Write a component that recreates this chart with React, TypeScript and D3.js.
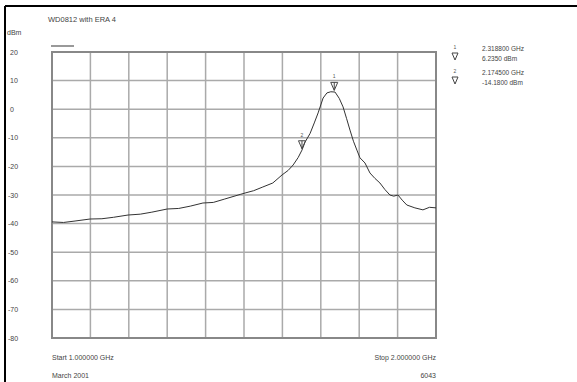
import React, { useEffect, useRef } from 'react';
import * as d3 from 'd3';

// trace (GHz, dBm)
const freqs = [1.0, 1.03, 1.06, 1.099, 1.13, 1.16, 1.198, 1.23, 1.26, 1.3, 1.33, 1.36, 1.393, 1.42, 1.45, 1.49, 1.503, 1.525, 1.549, 1.575, 1.599, 1.615, 1.628, 1.641, 1.651, 1.659, 1.672, 1.683, 1.693, 1.706, 1.716, 1.726, 1.737, 1.748, 1.758, 1.767, 1.776, 1.785, 1.794, 1.802, 1.815, 1.828, 1.841, 1.854, 1.867, 1.88, 1.89, 1.901, 1.912, 1.924, 1.945, 1.966, 1.983, 2.0];
const levels = [-39.4, -39.6, -39.1, -38.4, -38.3, -37.8, -37.0, -36.7, -36.0, -34.9, -34.7, -33.9, -32.8, -32.6, -31.4, -29.8, -29.3, -28.5, -27.2, -25.8, -23.0, -21.4, -19.5, -16.9, -14.3, -11.5, -8.5, -4.8, -1.3, 3.9, 5.7, 6.1, 6.0, 3.8, 0.8, -3.2, -7.3, -11.2, -14.3, -17.0, -18.8, -22.3, -24.2, -25.8, -28.1, -30.0, -30.4, -30.0, -31.8, -33.5, -34.5, -35.2, -34.3, -34.5];

const yTicks = [20, 10, 0, -10, -20, -30, -40, -50, -60, -70, -80];
const xTicks = [1.0, 1.1, 1.2, 1.3, 1.4, 1.5, 1.6, 1.7, 1.8, 1.9, 2.0];

const markerIds = ['1', '2'];
const markerFreqs = [1.735, 1.651];
const markerLevels = [6.235, -14.18];
const markerFreqLabels = ['2.318800 GHz', '2.174500 GHz'];
const markerLevelLabels = ['6.2350 dBm', '-14.1800 dBm'];

const FONT = '"Liberation Sans", Arial, sans-serif';

const App = () => {
  const svgRef = useRef<SVGSVGElement>(null);

  useEffect(() => {
    const svg = d3.select(svgRef.current);
    svg.selectAll('*').remove();

    const left = 52, right = 436, top = 52, bottom = 338;

    const x = d3.scaleLinear().domain([1, 2]).range([left, right]);
    const y = d3.scaleLinear().domain([-80, 20]).range([bottom, top]);

    // outer frame (top + left only)
    svg.append('line').attr('x1', 5).attr('x2', 577).attr('y1', 6).attr('y2', 6)
      .attr('stroke', '#000').attr('stroke-width', 2);
    svg.append('line').attr('x1', 5).attr('x2', 5).attr('y1', 6).attr('y2', 382)
      .attr('stroke', '#000').attr('stroke-width', 2);

    // title
    svg.append('text').attr('x', 48).attr('y', 22).text('WD0812 with ERA 4')
      .attr('font-size', 7.5).attr('font-family', FONT).attr('fill', '#444');
    svg.append('text').attr('x', 7).attr('y', 35).text('dBm')
      .attr('font-size', 7).attr('font-family', FONT).attr('fill', '#444');
    svg.append('line').attr('x1', 51).attr('x2', 74).attr('y1', 46).attr('y2', 46)
      .attr('stroke', '#777').attr('stroke-width', 1.5);

    // grid
    const g = svg.append('g');
    g.selectAll('line.h').data(yTicks).join('line')
      .attr('x1', left).attr('x2', right)
      .attr('y1', d => y(d)).attr('y2', d => y(d))
      .attr('stroke', '#aaa').attr('stroke-width', 1.5);
    g.selectAll('line.v').data(xTicks).join('line')
      .attr('y1', top).attr('y2', bottom)
      .attr('x1', d => x(d)).attr('x2', d => x(d))
      .attr('stroke', '#aaa').attr('stroke-width', 1.5);
    g.append('rect').attr('x', left).attr('y', top)
      .attr('width', right - left).attr('height', bottom - top)
      .attr('fill', 'none').attr('stroke', '#888').attr('stroke-width', 2);

    // y labels
    svg.selectAll('text.yl').data(yTicks).join('text')
      .attr('x', d => (d > 0 ? 10 : d === 0 ? 10 : 8))
      .attr('y', d => y(d) + 2.5)
      .text(d => String(d))
      .attr('font-size', 7).attr('font-family', FONT).attr('fill', '#444');

    // trace
    const pts = freqs.map((f, i) => [f, levels[i]] as [number, number]);
    const line = d3.line<[number, number]>()
      .x(d => x(d[0]))
      .y(d => y(d[1]));
    svg.append('path').datum(pts).attr('d', line)
      .attr('fill', 'none').attr('stroke', '#333').attr('stroke-width', 1);

    // markers on trace
    markerIds.forEach((id, i) => {
      const mx = x(markerFreqs[i]);
      const my = y(markerLevels[i]) - 1;
      svg.append('path')
        .attr('d', `M${mx - 3.5},${my - 8} L${mx + 3.5},${my - 8} L${mx},${my} Z`)
        .attr('fill', 'none').attr('stroke', '#444').attr('stroke-width', 1);
      svg.append('line').attr('x1', mx).attr('x2', mx).attr('y1', my - 8).attr('y2', my)
        .attr('stroke', '#444').attr('stroke-width', 1);
      svg.append('text').attr('x', mx).attr('y', my - 12).text(id)
        .attr('text-anchor', 'middle').attr('font-size', 5).attr('font-family', FONT).attr('fill', '#555');
    });

    // marker readout
    markerIds.forEach((id, i) => {
      const by = 50 + i * 24;
      svg.append('text').attr('x', 455).attr('y', by - 1).text(id)
        .attr('text-anchor', 'middle').attr('font-size', 5).attr('font-family', FONT).attr('fill', '#555');
      svg.append('path')
        .attr('d', `M${452},${by + 3} L${458},${by + 3} L${455},${by + 10} Z`)
        .attr('fill', 'none').attr('stroke', '#444').attr('stroke-width', 1);
      svg.append('text').attr('x', 482).attr('y', by + 1).text(markerFreqLabels[i])
        .attr('font-size', 6.5).attr('font-family', FONT).attr('fill', '#444');
      svg.append('text').attr('x', 482).attr('y', by + 11).text(markerLevelLabels[i])
        .attr('font-size', 6.5).attr('font-family', FONT).attr('fill', '#444');
    });

    // footer
    const foot = [
      { t: 'Start 1.000000 GHz', x: left, y: 360, a: 'start' },
      { t: 'Stop 2.000000 GHz', x: right, y: 360, a: 'end' },
      { t: 'March 2001', x: left, y: 378, a: 'start' },
      { t: '6043', x: right, y: 378, a: 'end' },
    ];
    svg.selectAll('text.ft').data(foot).join('text')
      .attr('x', d => d.x).attr('y', d => d.y).attr('text-anchor', d => d.a)
      .text(d => d.t)
      .attr('font-size', 7).attr('font-family', FONT).attr('fill', '#444');
  }, []);

  return (
    <div style={{ position: 'fixed', left: 0, top: 0, background: '#fff' }}>
      <svg ref={svgRef} width={577} height={382} style={{ display: 'block' }}></svg>
    </div>
  );
};

export default App;
